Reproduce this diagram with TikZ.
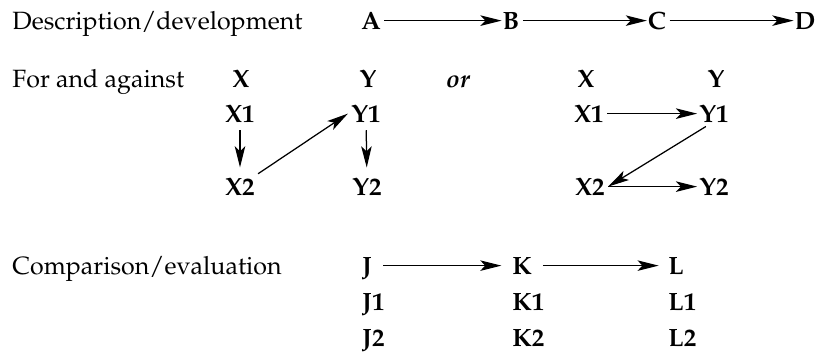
\documentclass[tikz,border=0pt]{standalone}
\usepackage[T1]{fontenc}
\usepackage{mathpazo}
\usetikzlibrary{arrows.meta,positioning,calc}

\begin{document}
\begin{tikzpicture}[x=0.4pt,y=-0.4pt,
  item/.style={font=\bfseries,anchor=base,inner sep=1.2pt,text height=1.6ex,text depth=0pt},
  head/.style={anchor=base west,inner sep=0pt},
  link/.style={-{Stealth[length=8.5pt,width=4.2pt,inset=2pt]},line width=0.5pt}]
\useasboundingbox (0,0) rectangle (823,353);
% description row
\node[head] (desc) at (12,30) {Description/development};
\node[item] (A) at (371,30) {A};
\node[item] (B) at (511,30) {B};
\node[item] (C) at (657,30) {C};
\node[item] (D) at (805,30) {D};
\draw[link,shorten >=-1pt] (A) -- (B);
\draw[link,shorten >=-1pt] (B) -- (C);
\draw[link,shorten >=-1pt] (C) -- (D);
% for and against
\node[head] (forag) at (12,87) {For and against};
\node[item] (X) at (241,87) {X};
\node[item] (Y) at (368,87) {Y};
\node[item] (alt) at (458,87) {\itshape or};
\node[item] (Xb) at (586,87) {X};
\node[item] (Yb) at (716,87) {Y};
\node[item] (X1) at (240,123) {X1};
\node[item] (Y1) at (366,123) {Y1};
\node[item] (X2) at (240,196) {X2};
\node[item] (Y2) at (367,196) {Y2};
\draw[link,shorten <=1.5pt,shorten >=2.5pt] (X1) -- (X2);
\draw[link] (X2.north east) -- (Y1.west);
\draw[link,shorten <=1.5pt,shorten >=2.5pt] (Y1) -- (Y2);
\node[item] (X1b) at (589,123) {X1};
\node[item] (Y1b) at (714,123) {Y1};
\node[item] (X2b) at (590,196) {X2};
\node[item] (Y2b) at (714,196) {Y2};
\draw[link,shorten >=-0.5pt] (X1b) -- (Y1b);
\draw[link] ([xshift=4pt]Y1b.south west) -- (X2b.east);
\draw[link,shorten >=-0.5pt] (X2b) -- (Y2b);
% comparison
\node[head] (comp) at (12,275) {Comparison/evaluation};
\node[item,anchor=base west] (J) at (359,275) {J};
\node[item,anchor=base west] (K) at (509,275) {K};
\node[item,anchor=base west] (L) at (665,275) {L};
\node[item,anchor=base west] (J1) at (359,311) {J1};
\node[item,anchor=base west] (K1) at (509,311) {K1};
\node[item,anchor=base west] (L1) at (665,311) {L1};
\node[item,anchor=base west] (J2) at (359,347) {J2};
\node[item,anchor=base west] (K2) at (509,347) {K2};
\node[item,anchor=base west] (L2) at (665,347) {L2};
\draw[link,shorten <=3pt,shorten >=3pt] (J) -- (K);
\draw[link,shorten <=3pt,shorten >=2.5pt] (K) -- (L);
\end{tikzpicture}
\end{document}
